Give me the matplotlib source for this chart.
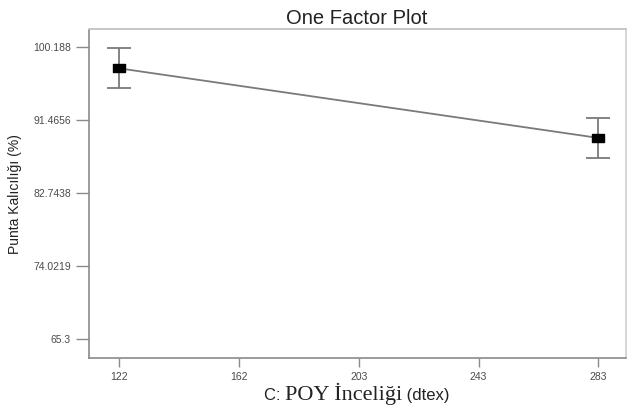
import matplotlib
matplotlib.use("Agg")
import matplotlib.pyplot as plt
from matplotlib.path import Path

# Data
x_levels = [122, 283]
means = [97.6, 89.3]
err_half = [2.4, 2.42]
xtick_vals = [122, 162.25, 202.5, 242.75, 283]
xtick_labels = ["122", "162", "203", "243", "283"]
ytick_vals = [65.3, 74.0219, 82.7438, 91.4656, 100.188]
ytick_labels = ["65.3", "74.0219", "82.7438", "91.4656", "100.188"]

title = "One Factor Plot"
ylabel = "Punta Kalıcılığı (%)"
xlabel_parts = [("C: ", "Liberation Sans", 12), ("POY İnceliği", "Liberation Serif", 16), (" (dtex)", "Liberation Sans", 12)]

W, H = 627, 407
fig = plt.figure(figsize=(W / 100, H / 100), dpi=100)
fig.patch.set_facecolor("white")
ax = fig.add_axes([89 / W, 1 - 358 / H, (626 - 89) / W, (358 - 29.5) / H])

spine_col = "#8a8a8a"
line_col = "#7a7a7a"
txt_col = "#4a4a4a"

ax.plot(x_levels, means, color=line_col, lw=1.3, zorder=2)
ax.errorbar(x_levels, means, yerr=err_half, fmt="none", ecolor=line_col,
            elinewidth=1.3, capsize=8.3, capthick=1.3, zorder=3)
rect = Path([(-1.7, -1), (1.7, -1), (1.7, 1), (-1.7, 1), (-1.7, -1)],
            [Path.MOVETO, Path.LINETO, Path.LINETO, Path.LINETO, Path.CLOSEPOLY])
ax.plot(x_levels, means, linestyle="none", marker=rect, markersize=9,
        color="black", zorder=4)

ax.set_xlim(111.8, 292.3)
ax.set_ylim(63.03, 102.24)
ax.set_xticks(xtick_vals)
ax.set_xticklabels(xtick_labels)
ax.set_yticks(ytick_vals)
ax.set_yticklabels(ytick_labels)

for s in ax.spines.values():
    s.set_color(spine_col)
    s.set_linewidth(1.2)
ax.spines["top"].set_color("#bdbdbd")
ax.spines["right"].set_color("#d0d0d0")

ax.tick_params(axis="y", length=9.4, width=1.0, color=spine_col, pad=3.6,
               labelsize=7.5, labelcolor=txt_col)
ax.tick_params(axis="x", length=6.5, width=1.0, color=spine_col, pad=3.5,
               labelsize=7.5, labelcolor=txt_col)
for lab in ax.get_xticklabels() + ax.get_yticklabels():
    lab.set_family("Liberation Sans")

fig.text(357 / W, 1 - 18 / H, title, ha="center", va="center",
         fontsize=14.5, family="Liberation Sans", color="#222222")
fig.text(15 / W, 1 - 194 / H, ylabel, ha="center", va="center", rotation=90,
         fontsize=10, family="Liberation Sans", color="#222222")

# Mixed-font x label, centred at x=357, baseline near y=400
fig.canvas.draw()
renderer = fig.canvas.get_renderer()
texts = []
for s, fam, fs in xlabel_parts:
    t = fig.text(0, 1 - 400 / H, s, ha="left", va="baseline", fontsize=fs,
                 family=fam, color="#222222")
    texts.append(t)
widths = [t.get_window_extent(renderer).width for t in texts]
total = sum(widths)
x0 = 357 - total / 2
for t, w in zip(texts, widths):
    t.set_x(x0 / W)
    x0 += w

fig.savefig("out.png", dpi=100)
